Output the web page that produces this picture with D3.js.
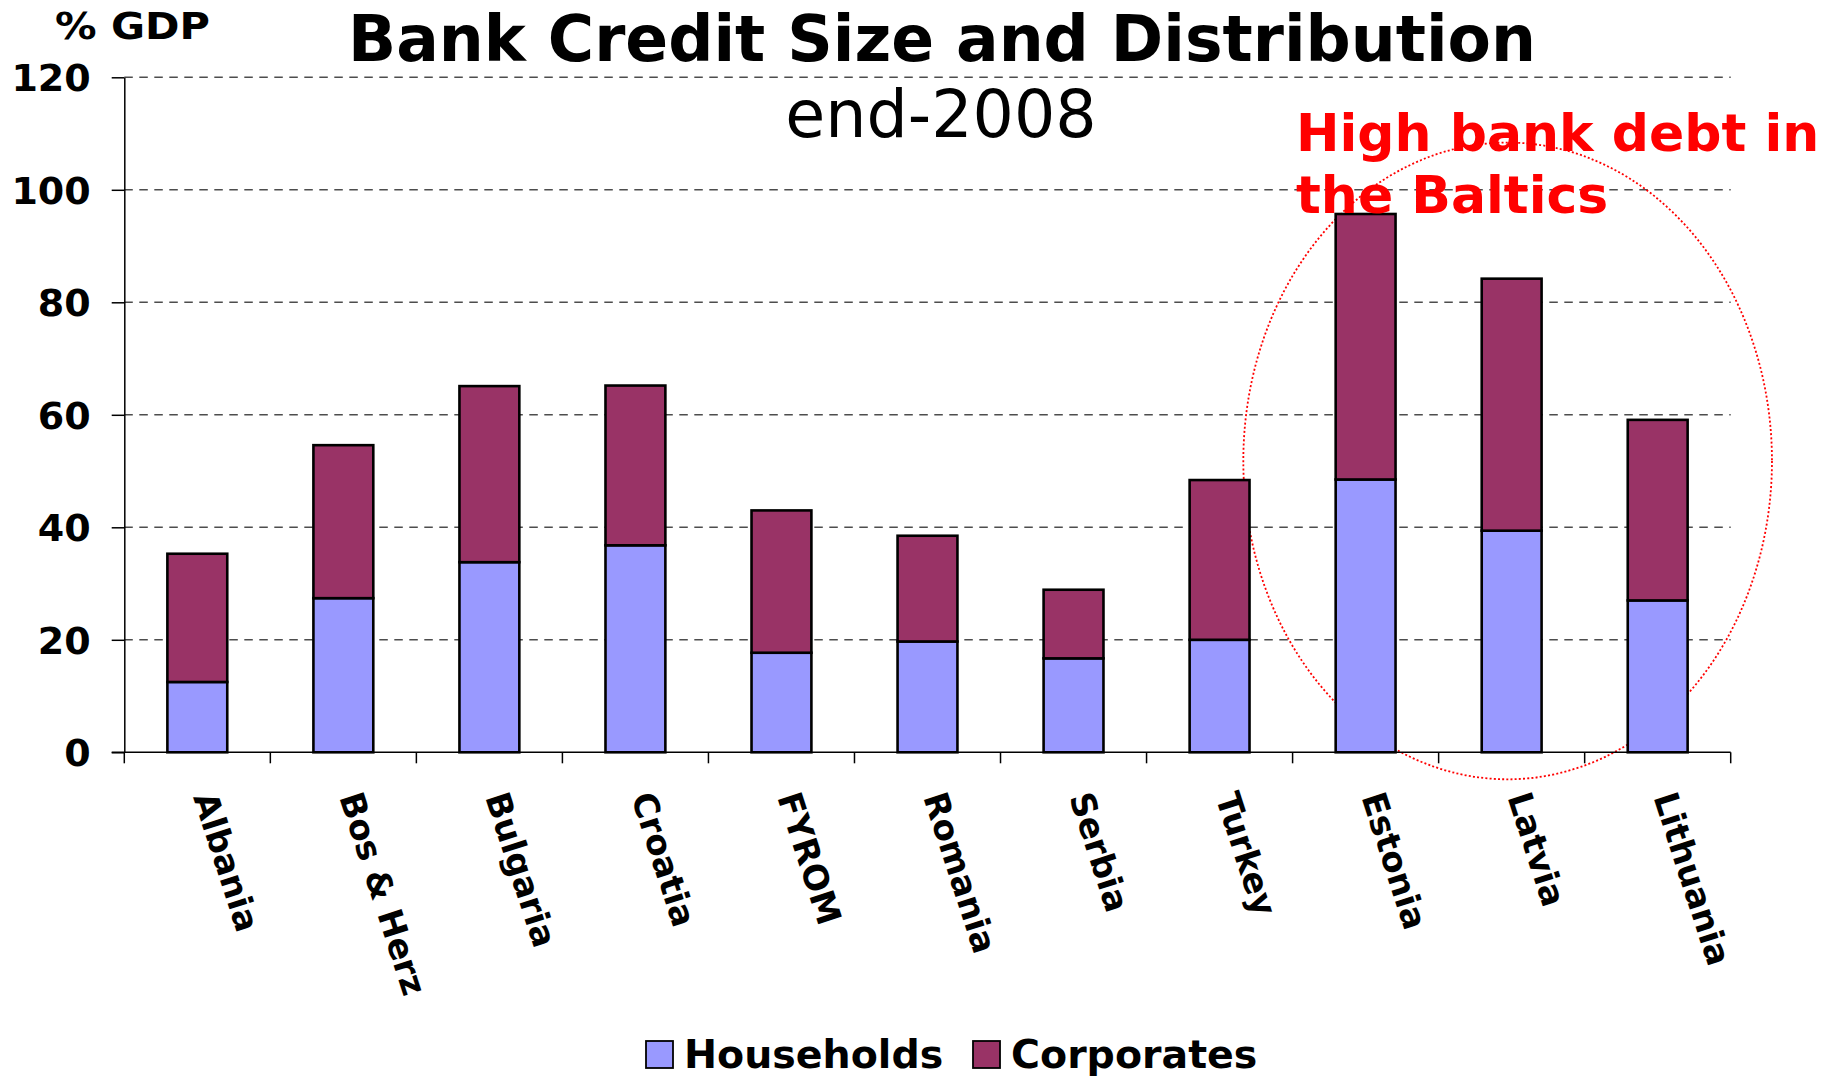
<!DOCTYPE html>
<html>
<head>
<meta charset="utf-8">
<script src="https://cdn.jsdelivr.net/npm/d3@7"></script>
<style>
  html, body { margin: 0; padding: 0; background: #fff; }
  svg { display: block; font-family: "DejaVu Sans", Verdana, sans-serif; }
</style>
</head>
<body>
<svg id="chart" width="1832" height="1076"></svg>
<script>
// Bank credit to the private sector, % of GDP, end-2008
const categories = ["Albania", "Bos & Herz", "Bulgaria", "Croatia", "FYROM", "Romania",
                    "Serbia", "Turkey", "Estonia", "Latvia", "Lithuania"];
const households = [12.5, 27.4, 33.8, 36.8, 17.7, 19.7, 16.7, 20.0, 48.5, 39.4, 27.0];
const corporates = [22.8, 27.2, 31.3, 28.4, 25.3, 18.8, 12.2, 28.4, 47.2, 44.8, 32.1];
const seriesNames = ["Households", "Corporates"];
const seriesColors = ["#9999FF", "#993366"];
const yTicks = [0, 20, 40, 60, 80, 100, 120];

const rows = categories.map((c, i) => ({ name: c, Households: households[i], Corporates: corporates[i] }));

const svg = d3.select("#chart");
const plotLeft = 124.3, plotRight = 1730.7, plotTop = 77.3, plotBottom = 752.3;

const x = d3.scaleBand().domain(categories).range([plotLeft, plotRight]).padding(0);
const y = d3.scaleLinear().domain([0, 120]).range([plotBottom, plotTop]);
const barW = x.step() * 0.41;
const color = d3.scaleOrdinal().domain(seriesNames).range(seriesColors);

// dashed horizontal gridlines
svg.append("g").selectAll("line")
  .data(yTicks.filter(t => t > 0))
  .join("line")
  .attr("x1", plotLeft).attr("x2", plotRight)
  .attr("y1", d => y(d)).attr("y2", d => y(d))
  .attr("stroke", "#4d4d4d").attr("stroke-width", 1.6)
  .attr("stroke-dasharray", "8.5,6.5");

// dotted ellipse around the Baltic states (behind the bars)
const cxE = x("Latvia") + x.step() / 2 - 4;
const cyE = y(51.8);
svg.append("ellipse")
  .attr("cx", cxE).attr("cy", cyE)
  .attr("rx", x.step() * 1.81)
  .attr("ry", y(0) - y(56.6))
  .attr("fill", "none")
  .attr("stroke", "#FF0000").attr("stroke-width", 1.8)
  .attr("stroke-dasharray", "2,2.2");

// stacked bars
const stack = d3.stack().keys(seriesNames);
const stacked = stack(rows);
svg.append("g").selectAll("g")
  .data(stacked)
  .join("g")
  .attr("fill", d => color(d.key))
  .selectAll("rect")
  .data(d => d)
  .join("rect")
  .attr("x", d => x(d.data.name) + (x.step() - barW) / 2)
  .attr("y", d => y(d[1]))
  .attr("width", barW)
  .attr("height", d => y(d[0]) - y(d[1]))
  .attr("stroke", "#000").attr("stroke-width", 2.6);

// y axis
const yAxis = svg.append("g")
  .attr("transform", `translate(${plotLeft},0)`)
  .call(d3.axisLeft(y).tickValues(yTicks).tickSize(12.6).tickPadding(21).tickSizeOuter(0));
yAxis.select(".domain").attr("stroke", "#000").attr("stroke-width", 1.5);
yAxis.selectAll(".tick line").attr("stroke", "#000").attr("stroke-width", 1.5);
yAxis.selectAll(".tick text")
  .attr("font-family", "DejaVu Sans, Verdana, sans-serif")
  .attr("font-size", 38).attr("font-weight", "bold").attr("fill", "#000")
  .attr("dy", "0.36em");

// x axis: ticks at category boundaries
svg.append("line")
  .attr("x1", plotLeft - 12.6).attr("x2", plotRight)
  .attr("y1", plotBottom).attr("y2", plotBottom)
  .attr("stroke", "#000").attr("stroke-width", 1.5);
const boundaries = categories.map(c => x(c)).concat([plotRight]);
svg.append("g").selectAll("line")
  .data(boundaries)
  .join("line")
  .attr("x1", d => d).attr("x2", d => d)
  .attr("y1", plotBottom).attr("y2", plotBottom + 11)
  .attr("stroke", "#000").attr("stroke-width", 1.5);

// rotated category labels
svg.append("g").selectAll("text")
  .data(categories)
  .join("text")
  .attr("transform", d => `translate(${x(d) + x.step() / 2 + 7},${plotBottom + 41}) rotate(72)`)
  .attr("text-anchor", "start")
  .attr("dominant-baseline", "central")
  .attr("font-size", 34).attr("font-weight", "bold").attr("fill", "#000")
  .text(d => d);

// titles
svg.append("text")
  .attr("x", 942).attr("y", 61)
  .attr("text-anchor", "middle")
  .attr("font-size", 64).attr("font-weight", "bold")
  .attr("textLength", 1188).attr("lengthAdjust", "spacingAndGlyphs")
  .text("Bank Credit Size and Distribution");
svg.append("text")
  .attr("x", 941).attr("y", 137)
  .attr("text-anchor", "middle")
  .attr("font-size", 65)
  .text("end-2008");
svg.append("text")
  .attr("x", 55).attr("y", 39)
  .attr("font-size", 37).attr("font-weight", "bold")
  .attr("textLength", 155).attr("lengthAdjust", "spacingAndGlyphs")
  .text("% GDP");

// annotation
const note = svg.append("text")
  .attr("font-size", 52).attr("font-weight", "bold").attr("fill", "#FF0000");
note.append("tspan").attr("x", 1296).attr("y", 151).text("High bank debt in");
note.append("tspan").attr("x", 1296).attr("y", 213).text("the Baltics");

// legend
const legendX = [646, 973];
const legend = svg.append("g").selectAll("g")
  .data(seriesNames)
  .join("g")
  .attr("transform", (d, i) => `translate(${legendX[i]},1041)`);
legend.append("rect")
  .attr("width", 27).attr("height", 27)
  .attr("fill", d => color(d))
  .attr("stroke", "#000").attr("stroke-width", 1.8);
legend.append("text")
  .attr("x", 38).attr("y", 27)
  .attr("font-size", 39.5).attr("font-weight", "bold")
  .text(d => d);
</script>
</body>
</html>
